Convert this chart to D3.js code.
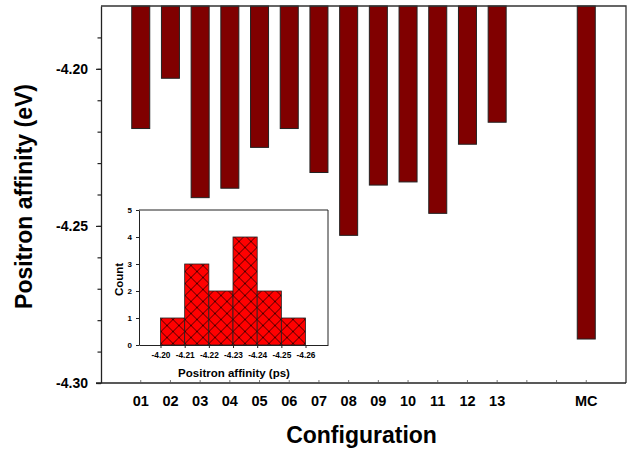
<!DOCTYPE html>
<html>
<head>
<meta charset="utf-8">
<script src="https://cdn.jsdelivr.net/npm/d3@7"></script>
<style>
  body { margin: 0; background: #fff; }
  text { font-family: "Liberation Sans", Arial, sans-serif; font-weight: bold; fill: #000; }
</style>
</head>
<body>
<div id="chart"></div>
<script>
// configurations and their positron affinity (eV)
const categories = ["01","02","03","04","05","06","07","08","09","10","11","12","13","MC"];
const affinity = [-4.219, -4.203, -4.241, -4.238, -4.225, -4.219, -4.233, -4.253, -4.237, -4.236, -4.246, -4.224, -4.217, -4.286];
// two empty slots between 13 and MC
const slots = ["01","02","03","04","05","06","07","08","09","10","11","12","13","_a","_b","MC"];
const yMajor = [-4.20, -4.25, -4.30];
const yMinor = [-4.19, -4.20, -4.21, -4.22, -4.23, -4.24, -4.25, -4.26, -4.27, -4.28, -4.29, -4.30];

// inset histogram
const binEdges = [-4.20, -4.21, -4.22, -4.23, -4.24, -4.25, -4.26];
const binCounts = [1, 3, 2, 4, 2, 1];
const countTicks = [0, 1, 2, 3, 4, 5];

const W = 641, H = 450;
const m = {left: 101, right: 626, top: 6, bottom: 383};

// plain hyphen instead of d3's unicode minus
const fmt2 = d => d.toFixed(2);

const svg = d3.select("#chart").append("svg")
  .attr("width", W).attr("height", H);

const defs = svg.append("defs");
const pat = defs.append("pattern")
  .attr("id", "xhatch")
  .attr("patternUnits", "userSpaceOnUse")
  .attr("x", 161).attr("y", 319.5)
  .attr("width", 12).attr("height", 12);
pat.append("rect").attr("width", 12).attr("height", 12).attr("fill", "#ff0000");
pat.append("path").attr("d", "M0,0L12,12M12,0L0,12")
  .attr("stroke", "#000").attr("stroke-width", 0.7);

const x = d3.scaleBand()
  .domain(slots)
  .range([m.left, m.right])
  .paddingInner(0.394)
  .paddingOuter(1.035);

const y = d3.scaleLinear()
  .domain([-4.18, -4.30])
  .range([m.top, m.bottom]);

// bars hang from the top of the frame
svg.append("g").selectAll("rect")
  .data(categories)
  .join("rect")
  .attr("x", d => x(d))
  .attr("y", y(-4.18))
  .attr("width", x.bandwidth())
  .attr("height", (d, i) => y(affinity[i]) - y(-4.18))
  .attr("fill", "#800000")
  .attr("stroke", "#222")
  .attr("stroke-width", 1);

// frame top and right
svg.append("path")
  .attr("d", `M${m.left},${m.top}H${m.right}V${m.bottom}`)
  .attr("fill", "none").attr("stroke", "#333").attr("stroke-width", 1.3);

// left axis: minor then major
const yMinorAx = svg.append("g")
  .attr("transform", `translate(${m.left},0)`)
  .call(d3.axisLeft(y).tickValues(yMinor).tickSize(3.5).tickSizeOuter(0).tickFormat(""));
yMinorAx.select(".domain").remove();

const yAx = svg.append("g")
  .attr("transform", `translate(${m.left},0)`)
  .call(d3.axisLeft(y).tickValues(yMajor).tickSize(5).tickSizeOuter(0).tickPadding(8)
    .tickFormat(fmt2));
yAx.selectAll("text").style("font-size", "14px").attr("font-family", null);
svg.selectAll(".tick line").attr("stroke", "#222").attr("stroke-width", 1.2);
yAx.select(".domain").attr("stroke", "#222").attr("stroke-width", 1.3);

// bottom axis: small inward ticks at every slot
const xAx = svg.append("g")
  .attr("transform", `translate(0,${m.bottom})`)
  .call(d3.axisBottom(x).tickSizeInner(-3).tickSizeOuter(0).tickPadding(13)
    .tickFormat(d => d.startsWith("_") ? "" : d));
xAx.selectAll("text").style("font-size", "14.5px").attr("font-family", null);
xAx.selectAll(".tick line").attr("stroke", "#555").attr("stroke-width", 0.8);
xAx.select(".domain").attr("d", `M${m.left - 5},0H${m.right}`)
  .attr("stroke", "#222").attr("stroke-width", 1.3);

svg.append("text")
  .attr("x", (m.left + m.right) / 2 - 2)
  .attr("y", 443)
  .attr("text-anchor", "middle")
  .style("font-size", "23px")
  .text("Configuration");

svg.append("text")
  .attr("transform", `translate(32,${(m.top + m.bottom) / 2 + 2}) rotate(-90)`)
  .attr("text-anchor", "middle")
  .style("font-size", "23px")
  .text("Positron affinity (eV)");

// ---- inset histogram ----
const ins = {left: 139, right: 328, top: 210, bottom: 345};
const ix = d3.scaleLinear()
  .domain([-4.1911, -4.2693])
  .range([ins.left, ins.right]);
const iy = d3.scaleLinear()
  .domain([0, 5])
  .range([ins.bottom, ins.top]);

const inset = svg.append("g");
inset.append("rect")
  .attr("x", ins.left).attr("y", ins.top)
  .attr("width", ins.right - ins.left).attr("height", ins.bottom - ins.top)
  .attr("fill", "#fff");

inset.append("g").selectAll("rect")
  .data(binCounts)
  .join("rect")
  .attr("x", (d, i) => ix(binEdges[i]))
  .attr("y", d => iy(d))
  .attr("width", (d, i) => ix(binEdges[i + 1]) - ix(binEdges[i]))
  .attr("height", d => iy(0) - iy(d))
  .attr("fill", "url(#xhatch)")
  .attr("stroke", "#222")
  .attr("stroke-width", 0.8);

inset.append("path")
  .attr("d", `M${ins.left},${ins.top}H${ins.right}V${ins.bottom}`)
  .attr("fill", "none").attr("stroke", "#222").attr("stroke-width", 1);

const iyAx = inset.append("g")
  .attr("transform", `translate(${ins.left},0)`)
  .call(d3.axisLeft(iy).tickValues(countTicks).tickSize(3).tickSizeOuter(0).tickPadding(4)
    .tickFormat(d3.format("d")));
iyAx.selectAll("text").style("font-size", "8px").attr("font-family", null);

const ixAx = inset.append("g")
  .attr("transform", `translate(0,${ins.bottom})`)
  .call(d3.axisBottom(ix).tickValues(binEdges).tickSize(3).tickSizeOuter(0).tickPadding(4)
    .tickFormat(fmt2));
ixAx.selectAll("text").style("font-size", "8.3px").attr("font-family", null);
inset.selectAll(".domain, .tick line").attr("stroke", "#222").attr("stroke-width", 1);

inset.append("text")
  .attr("x", (ins.left + ins.right) / 2 + 0.5)
  .attr("y", 377)
  .attr("text-anchor", "middle")
  .style("font-size", "11.5px")
  .text("Positron affinity (ps)");

inset.append("text")
  .attr("transform", `translate(123,${(ins.top + ins.bottom) / 2 + 2}) rotate(-90)`)
  .attr("text-anchor", "middle")
  .style("font-size", "11.5px")
  .text("Count");
</script>
</body>
</html>
